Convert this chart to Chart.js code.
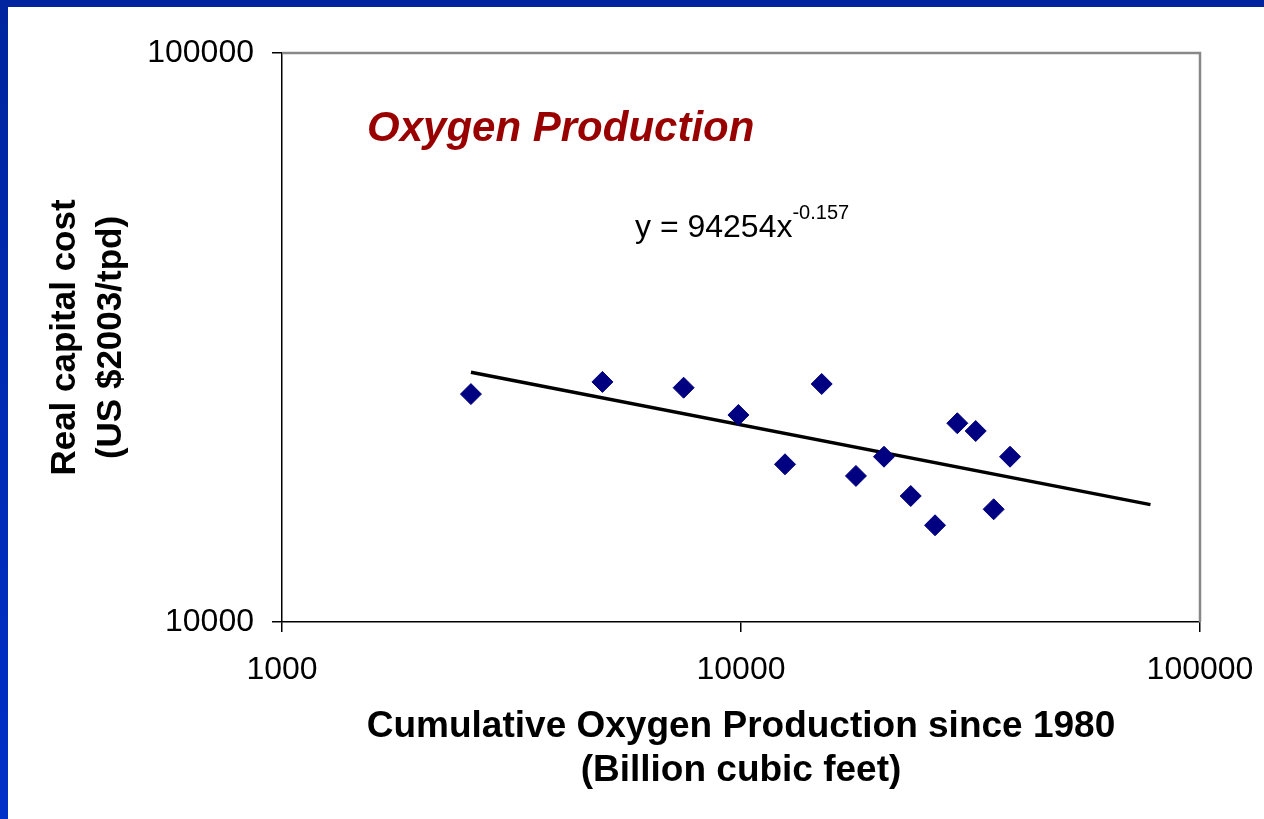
<!DOCTYPE html>
<html>
<head>
<meta charset="utf-8">
<script src="https://cdn.jsdelivr.net/npm/chart.js@4"></script>
<style>
  html, body { margin: 0; padding: 0; background: #fff; overflow: hidden; }
  #wrap { position: relative; width: 1264px; height: 819px; }
  #chart { position: absolute; left: 0; top: 0; }
  .bar-top { position: absolute; left: 0; top: 0; width: 1264px; height: 7px; background: #00259e; }
  .bar-left { position: absolute; left: 0; top: 0; width: 8px; height: 819px; background: linear-gradient(#00259e, #0030c8); }
</style>
</head>
<body>
<div id="wrap">
  <canvas id="chart" width="1264" height="819"></canvas>
  <div class="bar-top"></div>
  <div class="bar-left"></div>
</div>
<script>
// cumulative production (billion cubic feet) and real capital cost (US $2003/tpd)
const production = [2580, 4990, 7500, 9870, 12470, 14990, 17800, 20490, 23430, 26470, 29600, 32460, 35520, 38560];
const capitalCost = [25150, 26420, 25810, 23110, 18930, 26200, 18060, 19520, 16650, 14790, 22350, 21660, 15780, 19520];

// power trendline end points, y = 94254x^-0.157
const trendX = [2580, 78000];
const trendY = [27470, 16080];

const xTicks = [1000, 10000, 100000];
const yTicks = [10000, 100000];

const chartTitle = 'Oxygen Production';
const equation = 'y = 94254x';
const exponent = '-0.157';

const FONT = "'Liberation Sans', Arial, sans-serif";

const overlay = {
    id: 'overlay',
    afterDraw(chart) {
        const ctx = chart.ctx;
        const a = chart.chartArea;
        ctx.save();
        // grey frame on top and right
        ctx.strokeStyle = '#888888';
        ctx.lineWidth = 2.5;
        ctx.beginPath();
        ctx.moveTo(a.left, a.top);
        ctx.lineTo(a.right, a.top);
        ctx.lineTo(a.right, a.bottom);
        ctx.stroke();

        ctx.textBaseline = 'alphabetic';
        ctx.textAlign = 'left';
        ctx.fillStyle = '#990000';
        ctx.font = 'italic bold 42px ' + FONT;
        ctx.fillText(chartTitle, a.left + 85, a.top + 88);

        ctx.fillStyle = '#000';
        ctx.font = '32px ' + FONT;
        ctx.fillText(equation, a.left + 353, a.top + 184);
        const w = ctx.measureText(equation).width;
        ctx.font = '20px ' + FONT;
        ctx.fillText(exponent, a.left + 353 + w, a.top + 166);
        ctx.restore();
    }
};

const ctx = document.getElementById('chart').getContext('2d');
const chart = new Chart(ctx, {
    type: 'scatter',
    data: {
        datasets: [
            {
                label: 'Oxygen',
                data: production.map((x, i) => ({ x: x, y: capitalCost[i] })),
                pointStyle: 'rectRot',
                pointRadius: 10.5,
                pointBackgroundColor: '#000080',
                pointBorderColor: '#000080',
                pointBorderWidth: 1,
                showLine: false
            },
            {
                label: 'Trend',
                data: trendX.map((x, i) => ({ x: x, y: trendY[i] })),
                showLine: true,
                borderColor: '#000',
                borderWidth: 3.5,
                pointRadius: 0,
                fill: false
            }
        ]
    },
    options: {
        responsive: false,
        animation: false,
        devicePixelRatio: 1,
        layout: {
            padding: { left: 0, top: 53, right: 64, bottom: 0 }
        },
        plugins: {
            legend: { display: false },
            tooltip: { enabled: false },
            title: { display: false }
        },
        scales: {
            x: {
                type: 'logarithmic',
                min: 1000,
                max: 100000,
                afterBuildTicks: function (scale) {
                    scale.ticks = xTicks.map(v => ({ value: v }));
                },
                afterFit: function (scale) {
                    scale.height = 197;
                    scale.paddingLeft = 0;
                    scale.paddingRight = 0;
                },
                border: { color: '#000', width: 1.5 },
                grid: {
                    drawOnChartArea: false,
                    drawTicks: true,
                    tickLength: 10,
                    color: '#000',
                    lineWidth: 1.5
                },
                ticks: {
                    color: '#000',
                    font: { family: FONT, size: 32 },
                    padding: 19,
                    autoSkip: false,
                    maxRotation: 0,
                    callback: function (value) {
                        return String(value);
                    }
                },
                title: {
                    display: true,
                    text: ['Cumulative Oxygen Production since 1980', '(Billion cubic feet)'],
                    color: '#000',
                    font: { family: FONT, size: 37, weight: 'bold', lineHeight: 1.2 },
                    padding: { top: 0, bottom: 26 }
                }
            },
            y: {
                type: 'logarithmic',
                min: 10000,
                max: 100000,
                afterBuildTicks: function (scale) {
                    scale.ticks = yTicks.map(v => ({ value: v }));
                },
                afterFit: function (scale) {
                    scale.width = 282;
                    scale.paddingTop = 0;
                    scale.paddingBottom = 0;
                },
                border: { color: '#000', width: 1.5 },
                grid: {
                    drawOnChartArea: false,
                    drawTicks: true,
                    tickLength: 10,
                    color: '#000',
                    lineWidth: 1.5
                },
                ticks: {
                    color: '#000',
                    font: { family: FONT, size: 32 },
                    padding: 18,
                    autoSkip: false,
                    callback: function (value) {
                        return String(value);
                    }
                },
                title: {
                    display: true,
                    text: ['Real capital cost', '(US $2003/tpd)'],
                    color: '#000',
                    font: { family: FONT, size: 35, weight: 'bold', lineHeight: 1.3 },
                    padding: { top: 43, bottom: 0 }
                }
            }
        }
    },
    plugins: [overlay]
});
</script>
</body>
</html>
